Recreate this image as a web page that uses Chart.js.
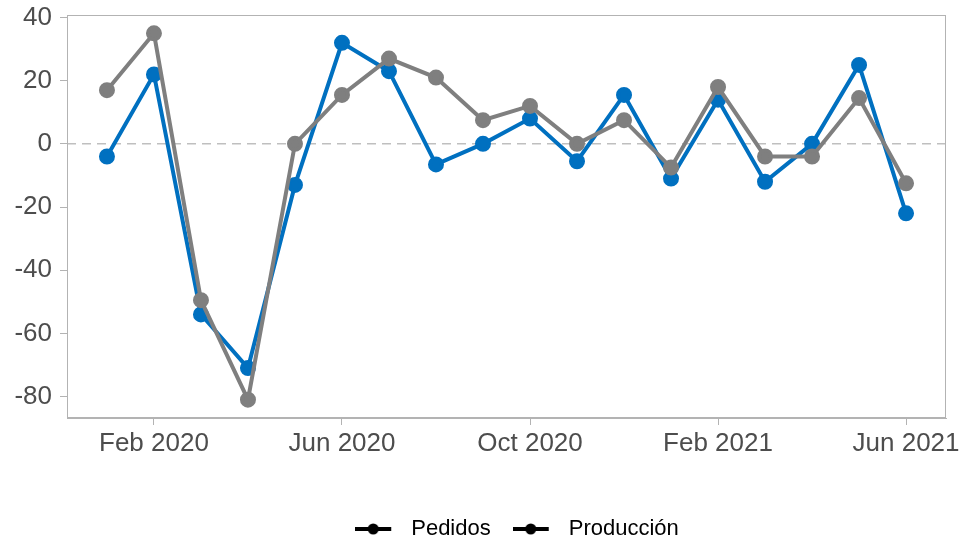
<!DOCTYPE html>
<html>
<head>
<meta charset="utf-8">
<script src="https://cdn.jsdelivr.net/npm/chart.js@4/dist/chart.umd.min.js"></script>
<style>
  html, body { margin: 0; padding: 0; background: #fff; }
  #wrap { width: 966px; height: 540px; }
</style>
</head>
<body>
<div id="wrap"><canvas id="chart" width="966" height="540"></canvas></div>
<script>
// Monthly points, Jan 2020 .. Jun 2021 (index 0..17)
const months = ['Jan 2020','Feb 2020','Mar 2020','Apr 2020','May 2020','Jun 2020','Jul 2020','Aug 2020','Sep 2020',
                'Oct 2020','Nov 2020','Dec 2020','Jan 2021','Feb 2021','Mar 2021','Apr 2021','May 2021','Jun 2021'];
const pedidos    = [-4, 22, -54, -71, -13, 32, 23, -6.5, 0, 8, -5.5, 15.5, -11, 14, -12, 0, 25, -22];
const produccion = [17, 35, -49.5, -81, 0, 15.5, 27, 21, 7.5, 12, 0, 7.5, -7.5, 18, -4, -4, 14.5, -12.5];
const xTickIdx = [1, 5, 9, 13, 17];
const yTicks = [-80, -60, -40, -20, 0, 20, 40];

const BLUE = '#0070C0';
const GREY = '#7F7F7F';
const AXIS = '#B3B3B3';
const FONT = "'Liberation Sans', Arial, sans-serif";

// legend icon: black line with a dot (extra blank space on the right = gap before text)
function legendIcon() {
    const c = document.createElement('canvas');
    c.width = 45; c.height = 12;
    const g = c.getContext('2d');
    g.strokeStyle = '#000'; g.lineWidth = 4;
    g.beginPath(); g.moveTo(0, 6); g.lineTo(36, 6); g.stroke();
    g.fillStyle = '#000';
    g.beginPath(); g.arc(18, 6, 5.5, 0, Math.PI * 2); g.fill();
    return c;
}

// frame around panel + dashed zero line
const panelDecor = {
    id: 'panelDecor',
    afterLayout(chart) {
        // legend sits a bit right of the canvas centre in the original
        chart.legend.left += 44;
        chart.legend.right += 44;
    },
    beforeDatasetsDraw(chart) {
        const { ctx, chartArea: a, scales: { y } } = chart;
        const y0 = y.getPixelForValue(0);
        ctx.save();
        ctx.strokeStyle = '#BFBFBF';
        ctx.lineWidth = 1.5;
        ctx.setLineDash([9, 6]);
        ctx.beginPath(); ctx.moveTo(a.left, y0); ctx.lineTo(a.right, y0); ctx.stroke();
        ctx.setLineDash([]);
        ctx.strokeStyle = AXIS;
        ctx.lineWidth = 1;
        ctx.strokeRect(a.left + 0.5, a.top + 0.5, a.right - a.left - 1, a.bottom - a.top - 1);
        ctx.restore();
    }
};

const pts = arr => arr.map((v, i) => ({ x: i, y: v }));
const icon = legendIcon();

new Chart(document.getElementById('chart'), {
    type: 'line',
    data: {
        datasets: [
            { label: 'Producción', data: pts(produccion), borderColor: GREY, backgroundColor: GREY,
              borderWidth: 4, pointRadius: 6, pointHoverRadius: 6, tension: 0, order: 1 },
            { label: 'Pedidos', data: pts(pedidos), borderColor: BLUE, backgroundColor: BLUE,
              borderWidth: 4, pointRadius: 6, pointHoverRadius: 6, tension: 0, order: 2 }
        ]
    },
    options: {
        responsive: false,
        animation: false,
        layout: { padding: { top: 15, right: 20, left: 0, bottom: -10 } },
        plugins: {
            tooltip: { enabled: false },
            legend: {
                position: 'bottom',
                labels: {
                    usePointStyle: true,
                    pointStyleWidth: 45,
                    boxHeight: 12,
                    padding: 22,
                    color: '#000',
                    font: { family: FONT, size: 22 },
                    generateLabels: () => ['Pedidos', 'Producción'].map((t, i) => ({
                        text: t, pointStyle: icon, fillStyle: '#000', strokeStyle: '#000',
                        lineWidth: 0, hidden: false, datasetIndex: i, fontColor: '#000'
                    }))
                }
            }
        },
        scales: {
            x: {
                type: 'linear',
                min: -0.85, max: 17.85,
                afterBuildTicks: s => { s.ticks = xTickIdx.map(v => ({ value: v })); },
                afterFit: s => { s.height = 78; },
                grid: { drawOnChartArea: false, drawTicks: true, tickLength: 7, color: AXIS },
                border: { display: true, color: AXIS },
                ticks: {
                    autoSkip: false, maxRotation: 0, padding: 3,
                    color: '#4D4D4D', font: { family: FONT, size: 26 },
                    callback: v => months[v]
                }
            },
            y: {
                min: -86.8, max: 40.8,
                afterBuildTicks: s => { s.ticks = yTicks.map(v => ({ value: v })); },
                afterFit: s => { s.width = 67; s.paddingTop = 0; s.paddingBottom = 0; },
                grid: { drawOnChartArea: false, drawTicks: true, tickLength: 7, color: AXIS },
                border: { display: true, color: AXIS },
                ticks: { padding: 8, color: '#4D4D4D', font: { family: FONT, size: 26 } }
            }
        }
    },
    plugins: [panelDecor]
});
</script>
</body>
</html>
